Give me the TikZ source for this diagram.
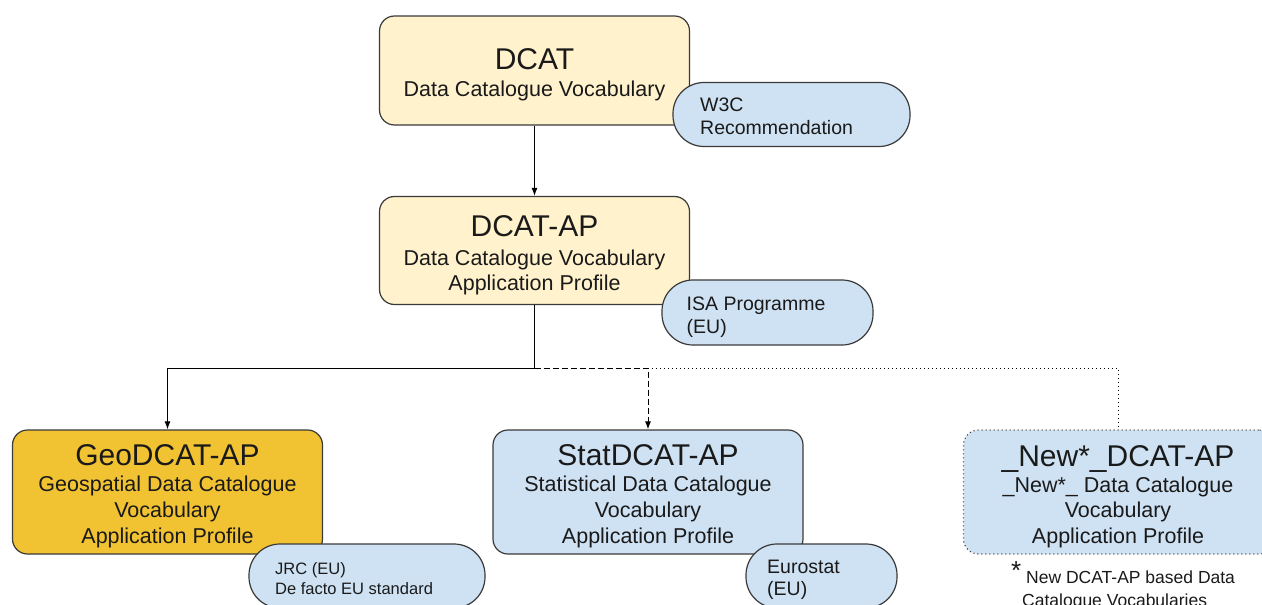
\documentclass[tikz,border=0pt]{standalone}
\usepackage{fontspec}
\setmainfont{Liberation Sans}
\usetikzlibrary{arrows.meta}
\definecolor{boxyellow}{HTML}{FFF2CC}
\definecolor{boxgold}{HTML}{F1C232}
\definecolor{boxblue}{HTML}{CFE2F3}
\definecolor{edgec}{HTML}{3A3A3A}
\definecolor{ink}{HTML}{1A1A1A}
\begin{document}
\begin{tikzpicture}[x=1pt,y=-1pt,
  mainbox/.style={draw=edgec,line width=1.2pt,rounded corners=15pt,inner sep=0pt,minimum width=310pt},
  pill/.style={draw=edgec,line width=1.2pt,fill=boxblue,rounded corners=31pt,inner sep=0pt,minimum height=64pt},
  ttl/.style={anchor=base,inner sep=0pt,text=ink,font=\fontsize{30}{36}\selectfont},
  sub/.style={anchor=base,inner sep=0pt,text=ink,font=\fontsize{21.5}{25}\selectfont},
  ptxt/.style={anchor=base west,inner sep=0pt,text=ink,font=\fontsize{19.5}{22}\selectfont},
  stxt/.style={anchor=base west,inner sep=0pt,text=ink,font=\fontsize{16.5}{20}\selectfont},
  conn/.style={draw=black,line width=1pt},
  tip/.style={-{Latex[length=8pt,width=6pt]}},
  dashconn/.style={dash pattern=on 6pt off 3pt},
  dotconn/.style={dash pattern=on 1pt off 3pt}
]
\clip (0,0) rectangle (1262,605);
\fill[white] (0,0) rectangle (1262,605);

% main boxes
\node[mainbox,fill=boxyellow,minimum height=109pt] (dcat) at (534.5,70.5) {};
\node[mainbox,fill=boxyellow,minimum height=108pt] (dcatap) at (534.5,250.5) {};
\node[mainbox,fill=boxgold,minimum height=124pt] (geo) at (167.5,492) {};
\node[mainbox,fill=boxblue,minimum height=124pt] (stat) at (648,492) {};
\node[mainbox,fill=boxblue,minimum height=124pt,dotconn] (new) at (1118.5,492) {};

% connectors
\coordinate (jn) at (534.5,368);
\coordinate (js) at (648,368);
\draw[conn,tip] (dcat.south) -- (dcatap.north);
\draw[conn,tip] (dcatap.south) -- (jn) -| (geo.north);
\draw[conn,tip,dashconn] (jn) -| (stat.north);
\draw[conn,dotconn] (js) -| (new.north);

% box texts
\node[ttl] (dcatT) at (534.5,69) {DCAT};
\node[sub] (dcatS) at (534.5,96.5) {Data Catalogue Vocabulary};
\node[ttl] (apT) at (534.5,236.5) {DCAT-AP};
\node[sub] (apS1) at (534.5,265) {Data Catalogue Vocabulary};
\node[sub] (apS2) at (534.5,290) {Application Profile};
\node[ttl] (geoT) at (167.5,465) {GeoDCAT-AP};
\node[sub] (geoS1) at (167.5,491) {Geospatial Data Catalogue};
\node[sub] (geoS2) at (167.5,517) {Vocabulary};
\node[sub] (geoS3) at (167.5,543) {Application Profile};
\node[ttl] (statT) at (648,465) {StatDCAT-AP};
\node[sub] (statS1) at (648,491) {Statistical Data Catalogue};
\node[sub] (statS2) at (648,517) {Vocabulary};
\node[sub] (statS3) at (648,543) {Application Profile};
\node[ttl] (newT) at (1118,466) {\_New*\_DCAT-AP};
\node[sub] (newS1) at (1118,492) {\_New*\_ Data Catalogue};
\node[sub] (newS2) at (1118,517) {Vocabulary};
\node[sub] (newS3) at (1118,543) {Application Profile};

% pills
\node[pill,minimum width=237pt] (w3c) at (791.5,114.5) {};
\node[ptxt] (w3cA) at (700,111.5) {W3C};
\node[ptxt] (w3cB) at (700,134) {Recommendation};
\node[pill,minimum width=211pt,minimum height=65pt] (isa) at (767.5,312.5) {};
\node[ptxt] (isaA) at (686.5,310.5) {ISA Programme};
\node[ptxt] (isaB) at (686.5,333) {(EU)};
\node[pill,minimum width=236pt] (jrc) at (367,576) {};
\node[stxt] (jrcA) at (275,574) {JRC (EU)};
\node[stxt] (jrcB) at (275,594) {De facto EU standard};
\node[pill,minimum width=151pt] (euro) at (821.5,576) {};
\node[ptxt] (euroA) at (767,573) {Eurostat};
\node[ptxt] (euroB) at (767,595) {(EU)};

% footnote
\node[anchor=base west,inner sep=0pt,text=ink,font=\fontsize{26}{30}\selectfont] (star) at (1011,579) {*};
\node[anchor=base west,inner sep=0pt,text=ink,font=\fontsize{17.5}{21}\selectfont] (fnA) at (1026,583) {New DCAT-AP based Data};
\node[anchor=base west,inner sep=0pt,text=ink,font=\fontsize{17.5}{21}\selectfont] (fnB) at (1022,606) {Catalogue Vocabularies};
\end{tikzpicture}
\end{document}
